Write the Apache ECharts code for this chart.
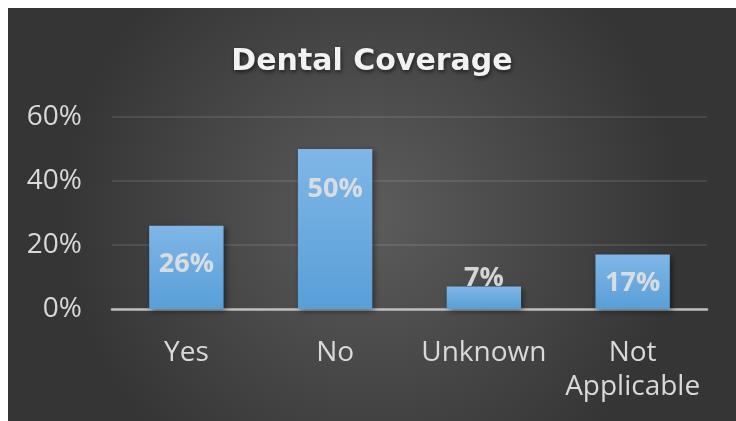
<!DOCTYPE html>
<html>
<head>
<meta charset="utf-8">
<script src="https://cdn.jsdelivr.net/npm/echarts@6/dist/echarts.min.js"></script>
<style>
  html, body { margin: 0; padding: 0; background: #ffffff; }
  #chart { position: absolute; left: 8px; top: 8px; width: 728px; height: 413px; }
</style>
</head>
<body>
<div id="chart"></div>
<script>
// Survey responses on dental coverage
const categories = ['Yes', 'No', 'Unknown', 'Not\nApplicable'];
const shares = [26, 50, 7, 17];
const yTicks = [0, 20, 40, 60];

// vertical nudges for the value labels (px from the bar top)
const labelShift = [25, 27, -22, 15];

const chart = echarts.init(document.getElementById('chart'), null, { renderer: 'canvas' });

const barData = shares.map((v, i) => ({
  value: v,
  label: { offset: [0, labelShift[i]] }
}));

chart.setOption({
  backgroundColor: {
    type: 'radial', x: 0.5, y: 0.5, r: 0.75,
    colorStops: [
      { offset: 0, color: '#5c5c5c' },
      { offset: 1, color: '#353535' }
    ]
  },
  animation: false,
  title: {
    text: 'Dental Coverage',
    left: 'center',
    top: 34,
    textStyle: {
      fontFamily: 'DejaVu Sans',
      fontWeight: 'bold',
      fontSize: 30,
      color: '#f2f2f2',
      textShadowColor: 'rgba(0,0,0,0.6)',
      textShadowBlur: 4,
      textShadowOffsetX: 1,
      textShadowOffsetY: 2
    }
  },
  grid: { left: 104, right: 29, top: 109, bottom: 112, containLabel: false },
  xAxis: {
    type: 'category',
    data: categories,
    axisTick: { show: false },
    axisLine: { show: true, lineStyle: { color: '#bfbfbf', width: 2.5 } },
    axisLabel: {
      interval: 0,
      color: '#d9d9d9',
      fontFamily: 'Open Sans',
      fontSize: 28,
      margin: 27,
      lineHeight: 34
    }
  },
  yAxis: {
    type: 'value',
    min: yTicks[0],
    max: yTicks[yTicks.length - 1],
    interval: yTicks[1] - yTicks[0],
    axisLine: { show: false },
    axisTick: { show: false },
    splitLine: { lineStyle: { color: 'rgba(255,255,255,0.13)', width: 1.5 } },
    axisLabel: {
      color: '#d9d9d9',
      fontFamily: 'Open Sans',
      fontSize: 28,
      margin: 30,
      padding: [6, 0, 0, 0],
      formatter: '{value}%'
    }
  },
  series: [{
    type: 'bar',
    data: barData,
    barWidth: '50%',
    itemStyle: {
      color: {
        type: 'linear', x: 0, y: 0, x2: 0, y2: 1,
        colorStops: [
          { offset: 0, color: '#80b6e7' },
          { offset: 1, color: '#589fd8' }
        ]
      },
      shadowColor: 'rgba(0,0,0,0.5)',
      shadowBlur: 6,
      shadowOffsetX: 2,
      shadowOffsetY: 2
    },
    label: {
      show: true,
      position: 'insideTop',
      distance: 0,
      formatter: '{c}%',
      color: 'rgba(225,225,225,0.92)',
      fontFamily: 'Open Sans',
      fontWeight: 'bold',
      fontSize: 27
    }
  }]
});
</script>
</body>
</html>
